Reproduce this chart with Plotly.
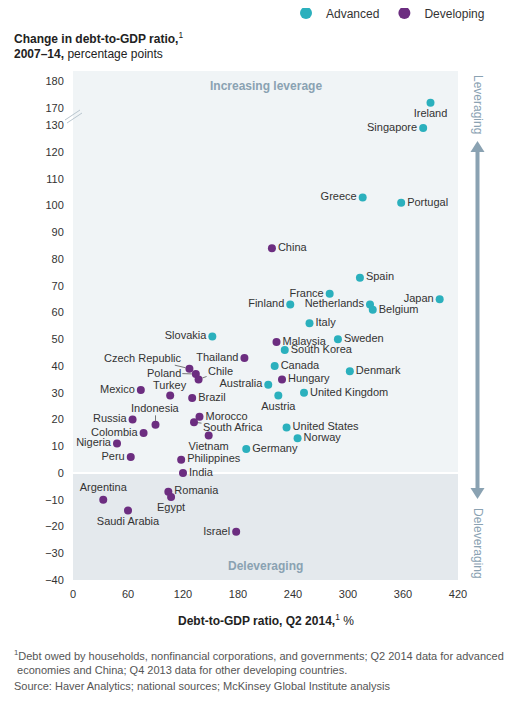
import plotly.graph_objects as go

# advanced economies: debt-to-GDP Q2 2014 (%), change 2007-14 (pp)
adv_names = ["Ireland", "Singapore", "Greece", "Portugal", "Spain", "France", "Finland",
             "Netherlands", "Belgium", "Japan", "Italy", "Sweden", "Slovakia", "South Korea",
             "Canada", "Denmark", "Australia", "Austria", "United Kingdom", "United States",
             "Norway", "Germany"]
adv_x = [390, 382, 316, 358, 313, 280, 237, 324, 327, 400, 258, 289, 152, 231,
         220, 302, 213, 224, 252, 233, 245, 189]
adv_y = [172, 129, 103, 101, 73, 67, 63, 63, 61, 65, 56, 50, 51, 46,
         40, 38, 33, 29, 30, 17, 13, 9]

# developing economies
dev_names = ["China", "Malaysia", "Thailand", "Hungary", "Czech Republic", "Poland", "Chile",
             "Mexico", "Turkey", "Brazil", "Indonesia", "Russia", "Colombia", "Nigeria", "Peru",
             "Morocco", "South Africa", "Vietnam", "Philippines", "India", "Argentina",
             "Saudi Arabia", "Romania", "Egypt", "Israel"]
dev_x = [217, 222, 187, 228, 127, 134, 137, 74, 106, 130, 90, 65, 77, 48, 63,
         138, 132, 148, 118, 120, 33, 60, 104, 107, 178]
dev_y = [84, 49, 43, 35, 39, 37, 35, 31, 29, 28, 18, 20, 15, 11, 6,
         21, 19, 14, 5, 0, -10, -14, -7, -9, -22]

y_ticks = [-40, -30, -20, -10, 0, 10, 20, 30, 40, 50, 60, 70, 80, 90, 100, 110, 120, 130, 170, 180]
x_ticks = [0, 60, 120, 180, 240, 300, 360, 420]

# broken axis: 130 -> 170 squeezed
def squash(v):
    return v if v <= 130 else v - 40 + 6.4

# where labels go
left = "middle left"
right = "middle right"
pos = {
    "Ireland": "bottom center", "Singapore": left, "Greece": left, "Portugal": right,
    "Spain": right, "France": left, "Finland": left, "Netherlands": left, "Belgium": right,
    "Japan": left, "Italy": right, "Sweden": right, "Slovakia": left, "South Korea": right,
    "Canada": right, "Denmark": right, "Australia": left, "Austria": "bottom center",
    "United Kingdom": right, "United States": right, "Norway": right, "Germany": right,
    "China": right, "Malaysia": right, "Thailand": left, "Hungary": right,
    "Mexico": left, "Brazil": right, "Russia": left,
    "Colombia": left, "Nigeria": left, "Peru": left, "Morocco": right,
    "Vietnam": "bottom center", "Philippines": right, "India": right,
    "Argentina": "top center", "Saudi Arabia": "bottom center", "Romania": right,
    "Egypt": "bottom center", "Israel": left,
}
# labels with leader lines: (ax, ay) pixel offset of the text
leaders = {
    "Czech Republic": (-46, -11),
    "Poland": (-32, -1),
    "Chile": (22, -8),
    "Indonesia": (0, -17),
    "South Africa": (39, 5),
}
# labels sitting close above their dot
above = {"Turkey": 10}

TEAL = "#2bb0bd"
PURPLE = "#6c2d80"
GREY = "#8aa2b2"
FONT = "Liberation Sans, Arial, sans-serif"

fig = go.Figure()
for name, xs, ys, names, col in [("Advanced", adv_x, adv_y, adv_names, TEAL),
                                 ("Developing", dev_x, dev_y, dev_names, PURPLE)]:
    fig.add_trace(go.Scatter(
        x=xs, y=[squash(v) for v in ys], mode="markers+text", name=name,
        text=["" if (n in leaders or n in above) else n for n in names],
        textposition=[pos.get(n, right) for n in names],
        textfont=dict(size=11, color="#333333", family=FONT),
        marker=dict(size=8, color=col),
        cliponaxis=False,
    ))

for n, (ax, ay) in leaders.items():
    i = dev_names.index(n)
    fig.add_annotation(x=dev_x[i], y=squash(dev_y[i]), text=n, showarrow=True,
                       arrowhead=0, arrowwidth=0.8, arrowcolor="#555555", ax=ax, ay=ay,
                       standoff=4, font=dict(size=11, color="#333333", family=FONT))

for n, dy in above.items():
    i = dev_names.index(n)
    fig.add_annotation(x=dev_x[i], y=squash(dev_y[i]), text=n, showarrow=False,
                       yshift=dy, font=dict(size=11, color="#333333", family=FONT))

# helpers: page pixels (reference) -> paper / data coords
def px(p):
    return (p - 73) / 385

def py(p):
    return (473 - p) / 2.675

def pyp(p):
    return (580 - p) / 509

shapes = [
    dict(type="rect", xref="x", yref="y", x0=0, x1=420, y0=-40, y1=0,
         fillcolor="#e4e9ed", line_width=0, layer="below"),
    dict(type="line", xref="x", yref="y", x0=0, x1=420, y0=0, y1=0,
         line=dict(color="white", width=2), layer="below"),
    # axis break marks
    dict(type="line", xref="paper", yref="y", x0=px(65), x1=px(80), y0=py(120), y1=py(110),
         line=dict(color="#b9c6cf", width=1)),
    dict(type="line", xref="paper", yref="y", x0=px(67), x1=px(82), y0=py(123), y1=py(113),
         line=dict(color="#b9c6cf", width=1)),
    # right-hand arrow
    dict(type="line", xref="paper", yref="y", x0=px(477.5), x1=px(477.5), y0=py(151), y1=py(489),
         line=dict(color=GREY, width=4)),
    dict(type="path", xref="paper", yref="y", fillcolor=GREY, line_width=0,
         path=f"M {px(470.5)} {py(152)} L {px(484.5)} {py(152)} L {px(477.5)} {py(141)} Z"),
    dict(type="path", xref="paper", yref="y", fillcolor=GREY, line_width=0,
         path=f"M {px(470.5)} {py(488)} L {px(484.5)} {py(488)} L {px(477.5)} {py(499)} Z"),
]
for s in shapes:
    fig.add_shape(**s)

anns = [
    dict(x=210, y=py(86), xref="x", yref="y", text="<b>Increasing leverage</b>", showarrow=False,
         font=dict(size=12, color=GREY, family=FONT)),
    dict(x=210, y=py(566), xref="x", yref="y", text="<b>Deleveraging</b>", showarrow=False,
         font=dict(size=12, color=GREY, family=FONT)),
    dict(x=px(478), y=py(104), xref="paper", yref="y", xanchor="center", yanchor="middle",
         text="Leveraging", textangle=90, showarrow=False,
         font=dict(size=12, color=GREY, family=FONT)),
    dict(x=px(478), y=py(543), xref="paper", yref="y", xanchor="center", yanchor="middle",
         text="Deleveraging", textangle=90, showarrow=False,
         font=dict(size=12, color=GREY, family=FONT)),
    dict(x=px(12), y=pyp(38), xref="paper", yref="paper", xanchor="left", yanchor="middle",
         showarrow=False, text="<b>Change in debt-to-GDP ratio,</b><sup>1</sup>",
         font=dict(size=12, color="#222222", family=FONT)),
    dict(x=px(12), y=pyp(54), xref="paper", yref="paper", xanchor="left", yanchor="middle",
         showarrow=False, text="<b>2007–14,</b> percentage points",
         font=dict(size=12, color="#222222", family=FONT)),
    dict(x=0.5, y=pyp(620), xref="paper", yref="paper", yanchor="middle",
         text="<b>Debt-to-GDP ratio, Q2 2014,</b><sup>1</sup> %", showarrow=False,
         font=dict(size=12, color="#222222", family=FONT)),
    dict(x=px(12), y=pyp(646), xref="paper", yref="paper", xanchor="left", yanchor="top",
         align="left", showarrow=False,
         text="<sup>1</sup>Debt owed by households, nonfinancial corporations, and governments; "
              "Q2 2014 data for advanced<br> economies and China; Q4 2013 data for other developing countries.",
         font=dict(size=11, color="#555555", family=FONT)),
    dict(x=px(12), y=pyp(686), xref="paper", yref="paper", xanchor="left", yanchor="middle",
         align="left", showarrow=False,
         text="Source: Haver Analytics; national sources; McKinsey Global Institute analysis",
         font=dict(size=11, color="#555555", family=FONT)),
]
for a in anns:
    fig.add_annotation(**a)

fig.update_layout(
    width=521, height=703,
    # page has an 8px body margin, so shift everything up/left by 8
    margin=dict(l=65, r=71, t=63, b=131, autoexpand=False),
    paper_bgcolor="white", plot_bgcolor="#f0f4f6",
    font=dict(family=FONT, size=11, color="#333333"),
    legend=dict(orientation="h", x=px(490), xanchor="right", y=pyp(13), yanchor="middle",
                font=dict(size=12, color="#333333", family=FONT), itemsizing="constant",
                bgcolor="rgba(0,0,0,0)"),
    xaxis=dict(range=[0, 420], tickvals=x_ticks, showgrid=False, zeroline=False,
               ticks="outside", ticklen=4, tickcolor="rgba(0,0,0,0)", showline=False,
               tickfont=dict(size=11, color="#333333")),
    yaxis=dict(range=[-40, py(71)], tickvals=[squash(v) for v in y_ticks],
               ticktext=[str(v).replace("-", "−") for v in y_ticks], showgrid=False,
               zeroline=False, ticks="outside", ticklen=6, tickcolor="rgba(0,0,0,0)",
               tickfont=dict(size=11, color="#333333")),
)

fig.write_html("out.html")
